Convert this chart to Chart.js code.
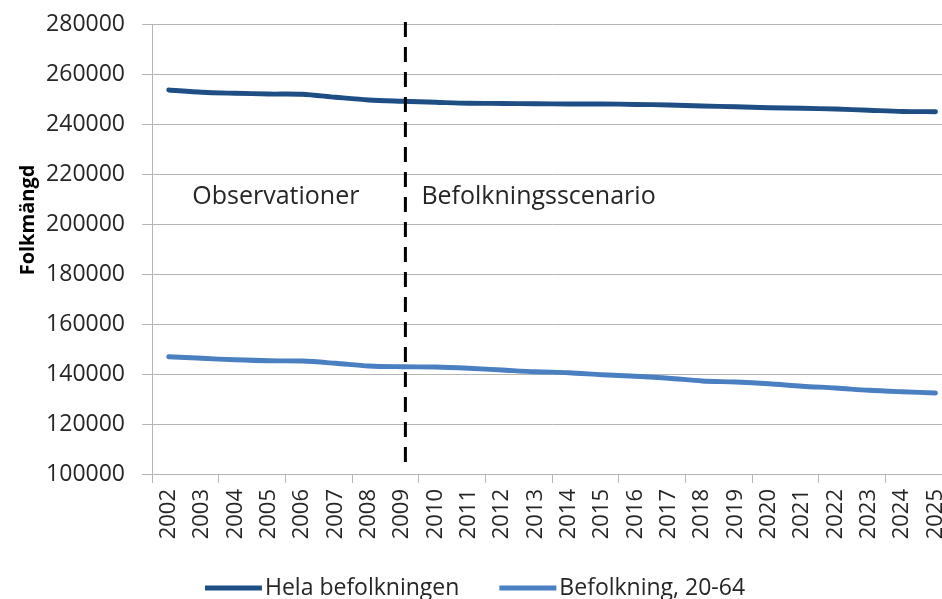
<!DOCTYPE html>
<html>
<head>
<meta charset="utf-8">
<script src="https://cdn.jsdelivr.net/npm/chart.js@4"></script>
<style>
  html, body { margin: 0; padding: 0; background: #fff; overflow: hidden; }
  #wrap { width: 942px; height: 599px; overflow: hidden; }
</style>
</head>
<body>
<div id="wrap"><canvas id="chart" width="968" height="599"></canvas></div>
<script>
// Data
const years = ['2002', '2003', '2004', '2005', '2006', '2007', '2008', '2009', '2010', '2011', '2012', '2013',
               '2014', '2015', '2016', '2017', '2018', '2019', '2020', '2021', '2022', '2023', '2024', '2025'];
const helaBefolkningen = [253600, 252700, 252300, 252000, 251900, 250700, 249600, 249100, 248700, 248300, 248200, 248100,
                          248000, 248000, 247800, 247600, 247200, 246900, 246500, 246300, 246000, 245500, 245000, 244900];
const befolkning2064 = [146900, 146300, 145700, 145300, 145200, 144300, 143200, 142900, 142800, 142300, 141600, 140900,
                        140500, 139700, 139100, 138300, 137200, 136800, 136100, 135100, 134400, 133500, 132900, 132400];
const seriesNames = ['Hela befolkningen', 'Befolkning, 20-64'];
const seriesColors = ['#1f4e85', '#4a7fc1'];
const yTitle = 'Folkmängd';

// where the scenario starts (category index) and the text labels beside it
const scenarioStart = 7.1;
const periodLabels = ['Observationer', 'Befolkningsscenario'];
const periodLabelLevel = 211000;

const fontFamily = '"Open Sans", "DejaVu Sans", sans-serif';
const textColor = '#262626';
const gridColor = '#b5b5b5';

// Dashed divider, period texts, axis title and the legend
const annotations = {
    id: 'annotations',
    afterDatasetsDraw(chart) {
        const { ctx, chartArea, scales: { x, y } } = chart;
        const xPos = x.getPixelForValue(scenarioStart);
        ctx.save();
        ctx.strokeStyle = '#000';
        ctx.lineWidth = 3;
        ctx.setLineDash([15, 10]);
        ctx.beginPath();
        ctx.moveTo(xPos, chartArea.top - 2);
        ctx.lineTo(xPos, chartArea.bottom - 4);
        ctx.stroke();
        ctx.setLineDash([]);

        const yPos = y.getPixelForValue(periodLabelLevel);
        ctx.font = '25px ' + fontFamily;
        ctx.fillStyle = textColor;
        ctx.textBaseline = 'middle';
        ctx.textAlign = 'right';
        ctx.fillText(periodLabels[0], xPos - 46, yPos);
        ctx.textAlign = 'left';
        ctx.fillText(periodLabels[1], xPos + 16, yPos);

        // axis title, sitting a bit above the middle like in the original
        ctx.save();
        ctx.translate(28, 220);
        ctx.rotate(-Math.PI / 2);
        ctx.font = 'bold 20px ' + fontFamily;
        ctx.fillStyle = '#000';
        ctx.textAlign = 'center';
        ctx.fillText(yTitle, 0, 0);
        ctx.restore();
        ctx.restore();
    },
    afterDraw(chart) {
        const { ctx } = chart;
        const sample = 57, gapText = 3, gapItem = 40;
        ctx.save();
        ctx.font = '23px ' + fontFamily;
        const widths = chart.data.datasets.map(d => ctx.measureText(d.label).width);
        const total = widths.reduce((acc, w) => acc + sample + gapText + w, 0) + gapItem * (widths.length - 1);
        let xPos = (942 - total) / 2 + 4;
        const yPos = 588;
        chart.data.datasets.forEach((d, i) => {
            ctx.strokeStyle = d.borderColor;
            ctx.lineWidth = 5;
            ctx.beginPath();
            ctx.moveTo(xPos, yPos);
            ctx.lineTo(xPos + sample, yPos);
            ctx.stroke();
            ctx.fillStyle = textColor;
            ctx.textBaseline = 'middle';
            ctx.textAlign = 'left';
            ctx.fillText(d.label, xPos + sample + gapText, yPos);
            xPos += sample + gapText + widths[i] + gapItem;
        });
        ctx.restore();
    }
};

const ctx = document.getElementById('chart').getContext('2d');
new Chart(ctx, {
    type: 'line',
    data: {
        labels: years,
        datasets: [{
            label: seriesNames[0],
            data: helaBefolkningen,
            borderColor: seriesColors[0],
            backgroundColor: seriesColors[0]
        }, {
            label: seriesNames[1],
            data: befolkning2064,
            borderColor: seriesColors[1],
            backgroundColor: seriesColors[1]
        }]
    },
    options: {
        responsive: false,
        animation: false,
        layout: { padding: { top: 24, bottom: 35, right: 3, left: 0 } },
        elements: {
            point: { radius: 0 },
            line: { borderWidth: 4.8, tension: 0.3, borderCapStyle: 'round', fill: false }
        },
        plugins: {
            legend: { display: false },
            tooltip: { enabled: false }
        },
        scales: {
            x: {
                offset: true,
                afterFit: scale => { scale.height = 90; },
                grid: {
                    offset: true,
                    drawOnChartArea: false,
                    tickLength: 9,
                    tickColor: c => (c.index % 2 === 0 ? gridColor : 'rgba(0,0,0,0)')
                },
                border: { color: gridColor },
                ticks: {
                    autoSkip: false,
                    maxRotation: 90,
                    minRotation: 90,
                    padding: 6,
                    color: textColor,
                    font: { family: fontFamily, size: 22 }
                }
            },
            y: {
                min: 100000,
                max: 280000,
                afterFit: scale => {
                    scale.width = 152;
                    scale.paddingTop = 0;
                    scale.paddingBottom = 0;
                },
                grid: { color: gridColor, tickLength: 10 },
                border: { color: gridColor },
                ticks: {
                    stepSize: 20000,
                    padding: 17,
                    color: textColor,
                    font: { family: fontFamily, size: 23 },
                    callback: v => String(v)
                }
            }
        }
    },
    plugins: [annotations]
});
</script>
</body>
</html>
